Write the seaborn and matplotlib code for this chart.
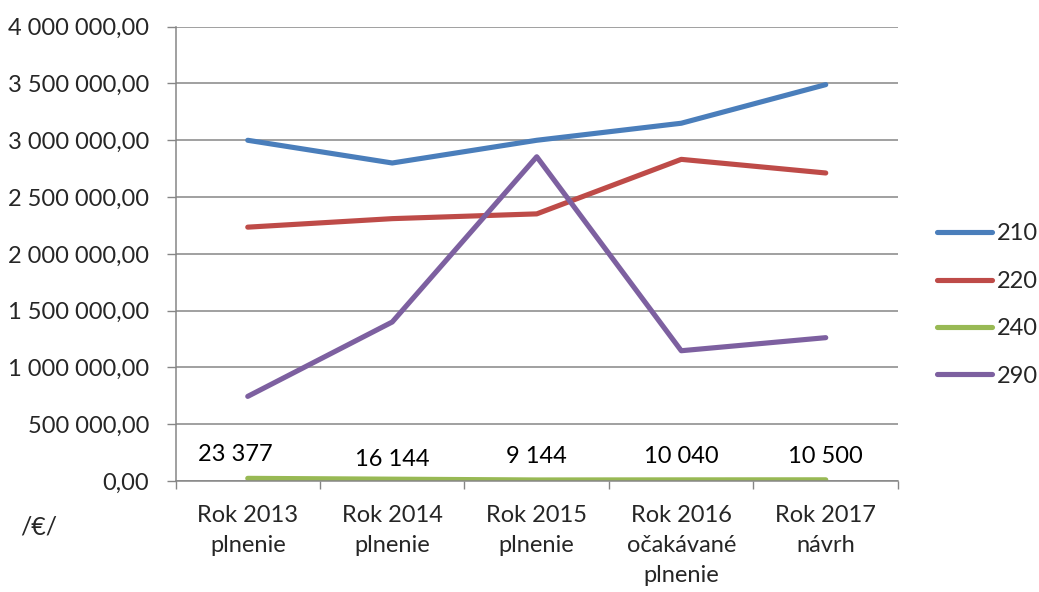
import numpy as np
import pandas as pd
import matplotlib
matplotlib.use("Agg")
import matplotlib.pyplot as plt
import seaborn as sns
from matplotlib.ticker import FuncFormatter, FixedLocator

# ---- data ----
categories = ["Rok 2013\nplnenie", "Rok 2014\nplnenie", "Rok 2015\nplnenie",
              "Rok 2016\nočakávané\nplnenie", "Rok 2017\nnávrh"]
series_names = ["210", "220", "240", "290"]
values_210 = [3000000, 2800000, 3000000, 3150000, 3490000]
values_220 = [2235000, 2310000, 2352000, 2832000, 2712000]
values_240 = [23377, 16144, 9144, 10040, 10500]
values_290 = [745000, 1400000, 2855000, 1147000, 1262000]
labels_240 = ["23 377", "16 144", "9 144", "10 040", "10 500"]
y_ticks = [0, 500000, 1000000, 1500000, 2000000, 2500000, 3000000, 3500000, 4000000]
unit_label = "/€/"

colors = ["#4A7EBB", "#BE4B48", "#98B954", "#7D60A0"]
grey = "#868686"

sns.set_style("white")
plt.rcParams["font.family"] = ["Lato", "DejaVu Sans"]
FS = 17

rows = []
for name, vals in zip(series_names, [values_210, values_220, values_240, values_290]):
    for i, v in enumerate(vals):
        rows.append({"pos": i, "value": v, "series": name})
df = pd.DataFrame(rows)

fig = plt.figure(figsize=(10.39, 5.92), dpi=100)
ax = fig.add_axes([175.5 / 1039, 1 - 481 / 592, (898 - 175.5) / 1039, (481 - 26.7) / 592])

LW = 3.7
sns.lineplot(data=df, x="pos", y="value", hue="series", hue_order=series_names,
             palette=colors, linewidth=LW, ax=ax, legend=True,
             solid_capstyle="round", solid_joinstyle="round")

ax.set_xlim(-0.5, len(categories) - 0.5)
ax.set_ylim(0, 4000000)
ax.set_xlabel("")
ax.set_ylabel("")

# y axis
ax.yaxis.set_major_locator(FixedLocator(y_ticks))
ax.yaxis.set_major_formatter(FuncFormatter(
    lambda v, p: f"{v:,.2f}".replace(",", " ").replace(".", ",")))
ax.tick_params(axis="y", length=6.5, width=1, color=grey, pad=12.5, labelsize=FS, left=True)
ax.grid(axis="y", color=grey, linewidth=1.1)
ax.grid(axis="x", visible=False)
ax.set_axisbelow(True)

# x axis
ax.set_xticks(range(len(categories)))
ax.set_xticklabels(categories)
ax.set_xticks(np.arange(-0.5, len(categories), 1.0), minor=True)
ax.tick_params(axis="x", which="major", length=0, pad=17, labelsize=FS)
ax.tick_params(axis="x", which="minor", length=6, width=1, color=grey, bottom=True)
for t in ax.get_xticklabels():
    t.set_linespacing(1.55)

for s in ["top", "right"]:
    ax.spines[s].set_visible(False)
for s in ["left", "bottom"]:
    ax.spines[s].set_color(grey)
    ax.spines[s].set_linewidth(1.1)

# data labels for 240
label_dx = [-9, 0, 0, 0, 0]
label_dy = [17, 14, 17, 17, 17]
for i, (v, lab) in enumerate(zip(values_240, labels_240)):
    ax.annotate(lab, (i, v), xytext=(label_dx[i], label_dy[i]), textcoords="offset points",
                ha="center", va="center", fontsize=FS, color="black")

# legend
handles, labs = ax.get_legend_handles_labels()
leg = ax.legend(handles, labs, loc="center left", bbox_to_anchor=(937 / 1039, 1 - 305 / 592),
                bbox_transform=fig.transFigure, frameon=False, fontsize=FS,
                handlelength=2.35, handletextpad=0.2, labelspacing=1.12,
                borderpad=0, borderaxespad=0)
for line in leg.get_lines():
    line.set_linewidth(LW)
    line.set_solid_capstyle("round")

fig.text(20 / 1039, 1 - 527 / 592, unit_label, fontsize=FS + 1, va="center", ha="left")

fig.savefig("out.png", dpi=100)
